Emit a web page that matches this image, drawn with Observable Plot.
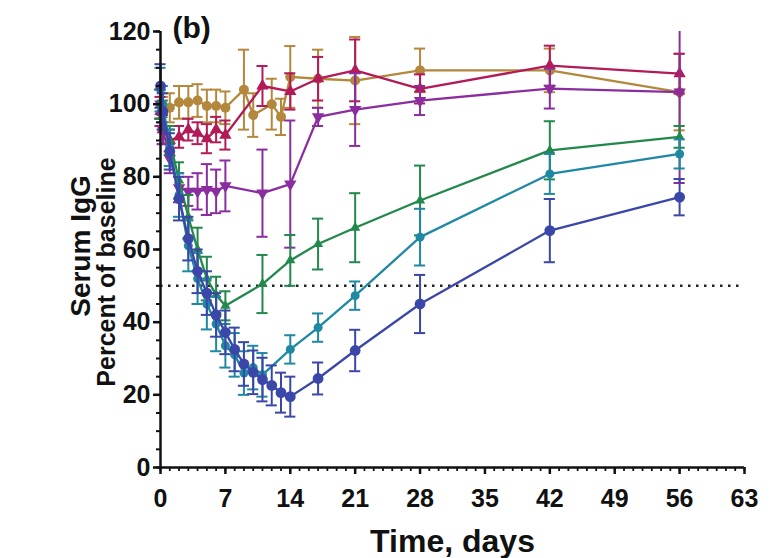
<!DOCTYPE html>
<html><head><meta charset="utf-8">
<script src="https://cdn.jsdelivr.net/npm/d3@7"></script>
<script src="https://cdn.jsdelivr.net/npm/@observablehq/plot@0.6"></script>
<style>
body{margin:0;background:#fff}
#chart svg text{font-weight:700}
</style>
</head><body><div id="chart"></div>
<script>
// ---- data ----
const xTicks = [0, 7, 14, 21, 28, 35, 42, 49, 56, 63];
const yTicks = [0, 20, 40, 60, 80, 100, 120];
const yTitle = "Serum IgG";
const ySubtitle = "Percent of baseline";
const xTitle = "Time, days";
const panelTag = "(b)";

const goldDay = [0, 0.25, 1, 2, 3, 4, 5, 6, 7, 9, 10, 12, 13, 14, 17, 21, 28, 42, 56];
const goldVal = [100, 98, 99, 100.5, 100.5, 101, 99.5, 99.5, 99, 104, 97, 100, 96.5, 107.5, 107, 106.5, 109.3, 109.3, 103.3];
const goldErr = [4, 4, 4, 4.5, 4.5, 4.5, 4.5, 4.5, 4.5, 11, 6, 7, 5, 8.5, 8, 12, 6, 6, 10.5];

const crimDay = [0, 0.25, 1, 2, 3, 4, 5, 6, 7, 11, 14, 17, 21, 28, 42, 56];
const crimVal = [98, 93, 90, 91, 93, 92, 90.5, 93, 91.5, 105, 103.5, 107, 109.3, 104.2, 110.6, 108.4];
const crimErr = [4, 4, 3, 3, 3, 3, 4, 3.5, 4, 5.5, 5, 6, 8.5, 4, 5.5, 5.5];

const purDay = [0, 0.25, 1, 2, 3, 4, 5, 6, 7, 11, 14, 17, 21, 28, 42, 56];
const purVal = [100, 93, 85, 77, 76, 76, 76.5, 76, 77.5, 75.5, 78, 96.5, 98.5, 101, 104.3, 103.3];
const purErr = [4, 4, 4, 4, 4, 5, 7, 6, 7, 12, 17.5, 2.5, 10, 4, 5.5, 25];

const grnDay = [0, 0.25, 1, 2, 3, 4, 5, 6, 7, 11, 14, 17, 21, 28, 42, 56];
const grnVal = [100, 97, 90, 79, 69, 60, 52, 47.5, 44.5, 50.5, 57, 61.5, 66, 73.5, 87.3, 91];
const grnErr = [4, 4, 4, 5, 6, 6, 6, 5, 4, 8, 7, 7, 9.5, 9.6, 8, 3];

const tealDay = [0, 0.25, 1, 2, 3, 4, 5, 6, 7, 8, 9, 10, 11, 14, 17, 21, 28, 42, 56];
const tealVal = [104, 100, 88, 75, 61, 52, 45, 39.5, 33.5, 31, 26, 27.5, 25.5, 32.5, 38.5, 47.3, 63.4, 80.8, 86.3];
const tealErr = [6, 5, 5, 6, 7, 7, 7, 7.5, 6, 6, 6, 6, 6, 3.9, 3.9, 3.9, 7.8, 5.5, 4];

const blueDay = [0, 0.25, 1, 2, 3, 4, 5, 6, 7, 8, 9, 10, 11, 12, 13, 14, 17, 21, 28, 42, 56];
const blueVal = [105, 98, 87, 74, 63, 54, 48, 42, 37.2, 32.5, 28.5, 26.2, 24.2, 22.6, 20.6, 19.5, 24.5, 32.2, 45, 65.2, 74.4];
const blueErr = [6, 5, 5, 6, 6, 6, 6, 6, 6, 6, 6, 6, 6, 5.5, 5.5, 5.5, 4.4, 5.7, 8, 8.7, 5];

const threshold = [50];

// downward triangle symbol
const triangleDown = {
  draw(ctx, size) {
    const y = -Math.sqrt(size / (Math.sqrt(3) * 3));
    ctx.moveTo(0, -y * 2);
    ctx.lineTo(-Math.sqrt(3) * y, y);
    ctx.lineTo(Math.sqrt(3) * y, y);
    ctx.closePath();
  }
};

const series = [
  {name: "gold",    color: "#b3883c", symbol: "circle",   r: 5,   day: goldDay, val: goldVal, err: goldErr},
  {name: "crimson", color: "#b21b57", symbol: "triangle", r: 4.6, day: crimDay, val: crimVal, err: crimErr},
  {name: "purple",  color: "#8a2e9f", symbol: triangleDown, r: 4.6, day: purDay, val: purVal, err: purErr},
  {name: "green",   color: "#22884b", symbol: "triangle", r: 3.8, day: grnDay, val: grnVal, err: grnErr},
  {name: "teal",    color: "#1f88a3", symbol: "circle",   r: 4.5, day: tealDay, val: tealVal, err: tealErr},
  {name: "blue",    color: "#3a47a8", symbol: "circle",   r: 5.4, day: blueDay, val: blueVal, err: blueErr}
];

const YMAX = 120;
const capHalf = 0.6;

const marks = [];
marks.push(Plot.ruleY(threshold, {stroke: "#222", strokeWidth: 2.5, strokeDasharray: "2.5,5.5"}));

for (const s of series) {
  const rows = s.day.map((d, i) => ({day: d, v: s.val[i], e: s.err[i]}));
  marks.push(Plot.ruleX(rows, {x: "day", y1: d => d.v - d.e, y2: d => Math.min(YMAX, d.v + d.e), stroke: s.color, strokeWidth: 2}));
  marks.push(Plot.ruleY(rows.filter(d => d.v + d.e <= YMAX), {y: d => d.v + d.e, x1: d => d.day - capHalf, x2: d => d.day + capHalf, stroke: s.color, strokeWidth: 2}));
  marks.push(Plot.ruleY(rows, {y: d => d.v - d.e, x1: d => d.day - capHalf, x2: d => d.day + capHalf, stroke: s.color, strokeWidth: 2}));
  marks.push(Plot.line(rows, {x: "day", y: "v", stroke: s.color, strokeWidth: 2.3}));
  marks.push(Plot.dot(rows, {x: "day", y: "v", fill: s.color, stroke: "none", r: s.r, symbol: s.symbol}));
}

// axes
marks.push(Plot.axisY(d3.range(0, 121, 5), {tickSize: 4, tickFormat: () => "", strokeWidth: 2, label: null}));
marks.push(Plot.axisY(yTicks, {tickSize: 7, tickPadding: 3, fontSize: 25, fontWeight: "bold", strokeWidth: 2.5, label: null}));
marks.push(Plot.axisX(d3.range(0, 64, 1), {tickSize: 4, tickFormat: () => "", strokeWidth: 1.8, label: null}));
marks.push(Plot.axisX(xTicks, {tickSize: 7, tickPadding: 15, fontSize: 25, fontWeight: "bold", strokeWidth: 2.5, label: null}));
marks.push(Plot.ruleX([0], {strokeWidth: 2.5, stroke: "#111"}));
marks.push(Plot.ruleY([0], {strokeWidth: 2.5, stroke: "#111"}));

// texts
marks.push(Plot.text([panelTag], {frameAnchor: "top-left", dx: 12, dy: 6, textAnchor: "start", lineAnchor: "bottom", fontSize: 30, fontWeight: "bold", fill: "#111"}));
marks.push(Plot.text([xTitle], {frameAnchor: "bottom", dy: 74, lineAnchor: "middle", fontSize: 32, fontWeight: "bold", fill: "#111"}));

const chart = Plot.plot({
  width: 779,
  height: 558,
  marginLeft: 160,
  marginRight: 35,
  marginTop: 31,
  marginBottom: 91,
  x: {domain: [0, 63]},
  y: {domain: [0, 120]},
  style: {fontFamily: "'Liberation Sans', Arial, sans-serif", color: "#111", background: "#fff"},
  marks
});

// rotated y-axis titles
const svg = d3.select(chart);
svg.append("text")
  .attr("transform", "translate(80,246) rotate(-90)")
  .attr("text-anchor", "middle").attr("dominant-baseline", "central")
  .attr("font-size", 28).attr("font-weight", 700).attr("fill", "#111")
  .text(yTitle);
svg.append("text")
  .attr("transform", "translate(106,272) rotate(-90)")
  .attr("text-anchor", "middle").attr("dominant-baseline", "central")
  .attr("font-size", 25).attr("font-weight", 700).attr("fill", "#111")
  .text(ySubtitle);

document.getElementById("chart").append(chart);
</script>
</body></html>
